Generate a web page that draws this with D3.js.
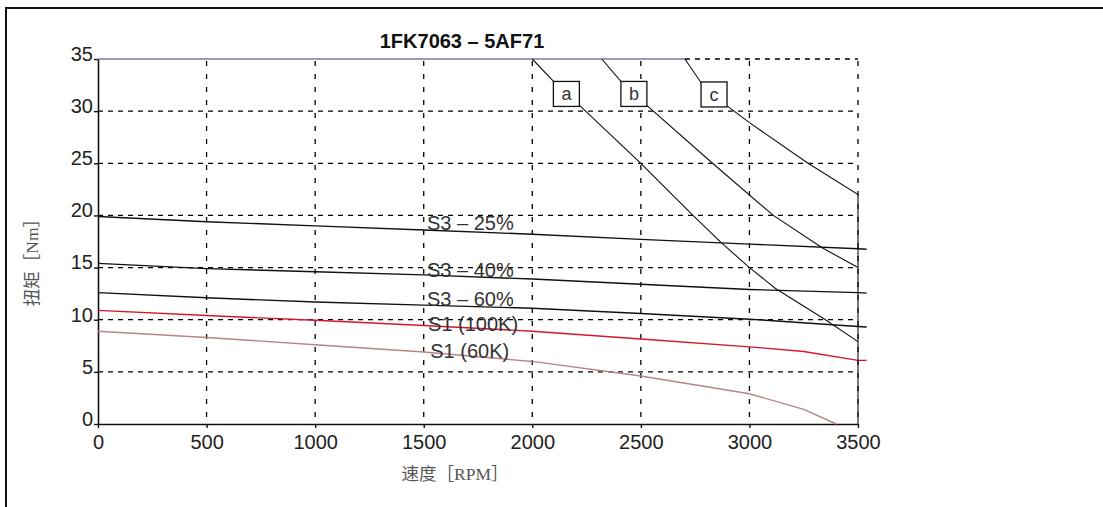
<!DOCTYPE html>
<html>
<head>
<meta charset="utf-8">
<script src="https://cdn.jsdelivr.net/npm/d3@7"></script>
<style>
  body { margin: 0; background: #fff; }
  svg { display: block; }
</style>
</head>
<body>
<svg id="chart" width="1103" height="507"></svg>
<script>
// ---- chart data: speed [RPM] vs torque [Nm] ----
const title = "1FK7063 – 5AF71";
const xTitle = "速度［RPM］";
const yTitle = "扭矩［Nm］";
const xTicks = [0, 500, 1000, 1500, 2000, 2500, 3000, 3500];
const yTicks = [0, 5, 10, 15, 20, 25, 30, 35];

// duty-cycle torque curves
const s3_25 = [[0, 19.9], [500, 19.4], [1000, 19.0], [1500, 18.6], [2000, 18.2], [2500, 17.7], [3000, 17.25], [3500, 16.8], [3540, 16.75]];
const s3_40 = [[0, 15.4], [500, 14.9], [1000, 14.6], [1500, 14.3], [2000, 13.9], [2500, 13.4], [3000, 12.9], [3500, 12.6], [3540, 12.55]];
const s3_60 = [[0, 12.6], [500, 12.1], [1000, 11.7], [1500, 11.4], [2000, 11.1], [2500, 10.6], [3000, 10.05], [3500, 9.35], [3540, 9.3]];
const s1_100k = [[0, 10.9], [500, 10.4], [1000, 9.95], [1500, 9.45], [2000, 8.9], [2500, 8.15], [3000, 7.4], [3250, 6.95], [3500, 6.1], [3540, 6.1]];
const s1_60k = [[0, 8.9], [500, 8.3], [1000, 7.6], [1500, 6.9], [2000, 6.0], [2500, 4.6], [3000, 2.9], [3250, 1.4], [3400, 0]];
const seriesNames = ["S3 – 25%", "S3 – 40%", "S3 – 60%", "S1 (100K)", "S1 (60K)"];

// voltage-limit curves a, b, c
const limitA = [[2000, 35], [2100, 32.8], [2220, 30.5], [2500, 25], [2740, 20], [2870, 17.4], [3000, 15], [3120, 13], [3350, 10], [3500, 7.9]];
const limitB = [[2320, 35], [2410, 32.8], [2530, 30.5], [2830, 25], [3110, 20], [3335, 16.9], [3500, 15]];
const limitC = [[2703, 35], [2778, 32.7], [2897, 30.5], [3000, 28.9], [3270, 25], [3500, 22], [3500, 0]];
const limitNames = ["a", "b", "c"];

// maximum torque
const maxTorque = [[0, 35], [2703, 35]];

// ---- drawing ----
const svg = d3.select("#chart");
const x = d3.scaleLinear().domain([0, 3500]).range([98, 858]);
const y = d3.scaleLinear().domain([0, 35]).range([424, 59]);
const line = d3.line().x(d => x(d[0])).y(d => y(d[1]));
const sans = "'Liberation Sans', Arial, sans-serif";

// outer frame
svg.append("rect")
  .attr("x", 6).attr("y", 8).attr("width", 1200).attr("height", 600)
  .attr("fill", "none").attr("stroke", "#111").attr("stroke-width", 2);

// dashed grid (the top row only where the maximum-torque line ends)
const grid = svg.append("g").attr("stroke", "#000").attr("stroke-width", 1.3).attr("fill", "none");
grid.selectAll("line.h").data(yTicks.filter(v => v > 0)).join("line")
  .attr("class", "h")
  .attr("x1", d => d === 35 ? x(maxTorque[1][0]) : x(0)).attr("x2", x(3500))
  .attr("y1", d => y(d)).attr("y2", d => y(d))
  .attr("stroke-dasharray", "5,5");
grid.selectAll("line.v").data(xTicks.filter(v => v > 0)).join("line")
  .attr("class", "v")
  .attr("x1", d => x(d)).attr("x2", d => x(d))
  .attr("y1", y(35) + 2).attr("y2", y(0))
  .attr("stroke-dasharray", "5,8");

// axes
const fmt = d3.format("d");
const xAxis = svg.append("g").attr("transform", `translate(0,${y(0)})`)
  .call(d3.axisBottom(x).tickValues(xTicks).tickFormat(fmt).tickSizeInner(4).tickSizeOuter(0).tickPadding(7));
const yAxis = svg.append("g").attr("transform", `translate(${x(0)},0)`)
  .call(d3.axisLeft(y).tickValues(yTicks).tickFormat(fmt).tickSizeInner(4).tickSizeOuter(0).tickPadding(1));
[xAxis, yAxis].forEach(g => {
  g.select(".domain").attr("stroke", "#111").attr("stroke-width", 1.6);
  g.selectAll(".tick line").attr("stroke", "#111").attr("stroke-width", 1.4);
  g.selectAll(".tick text").attr("fill", "#222").style("font-family", sans).style("font-size", "20px");
});
yAxis.selectAll(".tick text").attr("y", -5);

// maximum torque line
svg.append("path").datum(maxTorque).attr("d", line)
  .attr("fill", "none").attr("stroke", "#7a7a9e").attr("stroke-width", 1.6);

// duty-cycle curves
const seriesData = [s3_25, s3_40, s3_60, s1_100k, s1_60k];
const seriesColors = ["#111", "#111", "#111", "#d8142c", "#b88388"];
svg.append("g").selectAll("path").data(seriesData).join("path")
  .attr("d", line)
  .attr("fill", "none")
  .attr("stroke", (d, i) => seriesColors[i])
  .attr("stroke-width", 1.4);

// limit curves
svg.append("g").selectAll("path").data([limitA, limitB, limitC]).join("path")
  .attr("d", line)
  .attr("fill", "none").attr("stroke", "#111").attr("stroke-width", 1.1);

// boxed curve tags
const tagAt = [[2157, 31.65], [2468, 31.65], [2837, 31.6]];
const tags = svg.append("g").selectAll("g").data(limitNames).join("g")
  .attr("transform", (d, i) => `translate(${x(tagAt[i][0])},${y(tagAt[i][1])})`);
tags.append("rect").attr("x", -13).attr("y", -12.5).attr("width", 26).attr("height", 25)
  .attr("fill", "#fff").attr("stroke", "#111").attr("stroke-width", 1.3);
tags.append("text").text(d => d)
  .attr("text-anchor", "middle").attr("y", 6.5)
  .attr("fill", "#333").style("font-family", sans).style("font-size", "18px");

// curve labels
const labelAt = [[1515, 18.6], [1515, 14.1], [1515, 11.3], [1520, 8.9], [1530, 6.3]];
svg.append("g").selectAll("text").data(seriesNames).join("text")
  .text(d => d)
  .attr("x", (d, i) => x(labelAt[i][0]))
  .attr("y", (d, i) => y(labelAt[i][1]))
  .attr("fill", "#333").style("font-family", sans).style("font-size", "20px");

// title
svg.append("text").text(title)
  .attr("x", 462).attr("y", 48).attr("text-anchor", "middle")
  .attr("fill", "#111").style("font-family", sans).style("font-size", "20px").style("font-weight", "bold");

// axis titles
const titleFont = "'Liberation Serif', 'Noto Sans CJK SC', serif";
svg.append("text").text(xTitle)
  .attr("x", 455).attr("y", 480).attr("text-anchor", "middle")
  .attr("fill", "#555").style("font-family", titleFont).style("font-size", "17.5px");
svg.append("text").text(yTitle)
  .attr("transform", "translate(38,258) rotate(-90)").attr("text-anchor", "middle")
  .attr("fill", "#555").style("font-family", titleFont).style("font-size", "17.5px");
</script>
</body>
</html>
